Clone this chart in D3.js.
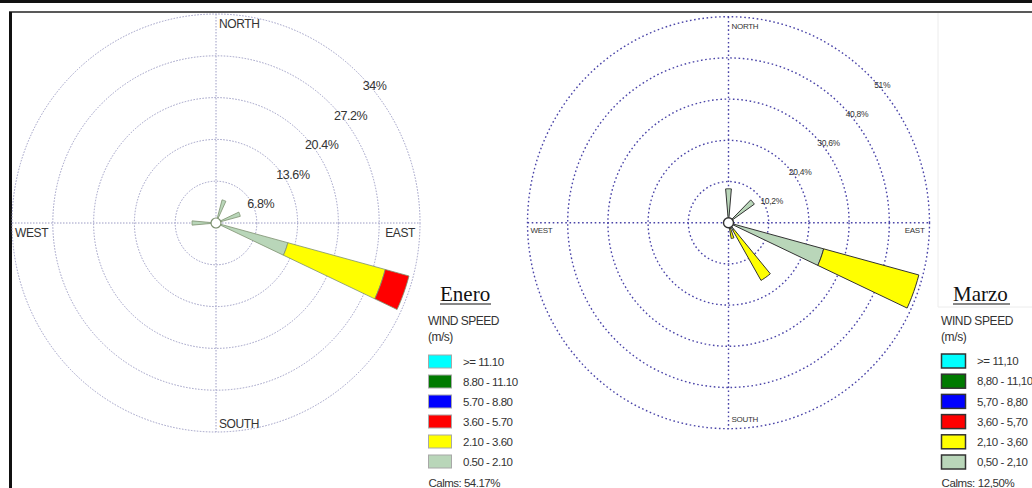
<!DOCTYPE html>
<html>
<head>
<meta charset="utf-8">
<script src="https://cdn.jsdelivr.net/npm/d3@7"></script>
<style>
  html, body { margin: 0; padding: 0; background: #fff; }
  svg { display: block; }
</style>
</head>
<body>
<svg id="chart" width="1032" height="488"></svg>
<script>
// ---- Data ---------------------------------------------------------------
// Speed classes (m/s), lowest first; colours follow the WRPLOT palette.
const speedClasses = ["0.50 - 2.10", "2.10 - 3.60", "3.60 - 5.70", "5.70 - 8.80", "8.80 - 11.10", ">= 11.10"];
const speedClassesComma = ["0,50 - 2,10", "2,10 - 3,60", "3,60 - 5,70", "5,70 - 8,80", "8,80 - 11,10", ">= 11,10"];
const speedColors = ["#b9d6b9", "#ffff00", "#ff0000", "#0000ff", "#007a00", "#00ffff"];

// January: direction (degrees from north) and frequency (%) per speed class
const eneroDirections = [20, 70, 110, 270];
const eneroClass1 = [3.9, 4.2, 12.4, 4.0];
const eneroClass2 = [0, 0, 16.8, 0];
const eneroClass3 = [0, 0, 4.1, 0];
const eneroClass4 = [0, 0, 0, 0];
const eneroClass5 = [0, 0, 0, 0];
const eneroClass6 = [0, 0, 0, 0];
const eneroRings = [6.8, 13.6, 20.4, 27.2, 34];
const eneroRingLabels = ["6.8%", "13.6%", "20.4%", "27.2%", "34%"];
const eneroCalms = "Calms: 54.17%";

// March
const marzoDirections = [0, 50, 110, 145, 165];
const marzoClass1 = [8.4, 8.0, 25.0, 2.2, 1.0];
const marzoClass2 = [0, 0, 25.0, 14.3, 3.0];
const marzoClass3 = [0, 0, 0, 0, 0];
const marzoClass4 = [0, 0, 0, 0, 0];
const marzoClass5 = [0, 0, 0, 0, 0];
const marzoClass6 = [0, 0, 0, 0, 0];
const marzoRings = [10.2, 20.4, 30.6, 40.8, 51];
const marzoRingLabels = ["10,2%", "20,4%", "30,6%", "40,8%", "51%"];
const marzoCalms = "Calms: 12,50%";

const compassNames = ["NORTH", "EAST", "SOUTH", "WEST"];

// ---- Drawing ------------------------------------------------------------
const svg = d3.select("#chart");

// page frame
svg.append("rect").attr("x", 0).attr("y", 0).attr("width", 1032).attr("height", 3).attr("fill", "#111");
svg.append("line").attr("x1", 9).attr("x2", 1032).attr("y1", 12).attr("y2", 12)
  .attr("stroke", "#222").attr("stroke-width", 1.6);
svg.append("line").attr("x1", 10.5).attr("x2", 10.5).attr("y1", 12).attr("y2", 488)
  .attr("stroke", "#111").attr("stroke-width", 3);
// faint border of the second plot image
svg.append("path").attr("d", "M938,13V307H1032").attr("fill", "none")
  .attr("stroke", "#ececec").attr("stroke-width", 1);

function windRose(cfg) {
  const g = svg.append("g");
  const {cx, cy} = cfg;
  const max = cfg.rings[cfg.rings.length - 1];
  const sx = d3.scaleLinear().domain([0, max]).range([0, cfg.rx]);
  const sy = d3.scaleLinear().domain([0, max]).range([0, cfg.ry]);
  const rad = d => d * Math.PI / 180;
  const project = (deg, v) => [cx + sx(v) * Math.sin(rad(deg)), cy - sy(v) * Math.cos(rad(deg))];

  // grid rings and axes
  const grid = g.append("g").attr("fill", "none")
    .attr("stroke", cfg.gridColor).attr("stroke-width", cfg.gridWidth)
    .attr("stroke-dasharray", cfg.gridDash);
  grid.selectAll("ellipse").data(cfg.rings).join("ellipse")
    .attr("cx", cx).attr("cy", cy)
    .attr("rx", d => sx(d)).attr("ry", d => sy(d));
  grid.append("line").attr("x1", cx - sx(max)).attr("x2", cx + sx(max)).attr("y1", cy).attr("y2", cy);
  grid.append("line").attr("x1", cx).attr("x2", cx).attr("y1", cy - sy(max)).attr("y2", cy + sy(max));

  // ring labels along the north-east diagonal
  g.append("g").selectAll("text").data(cfg.rings).join("text")
    .attr("x", d => project(45, d)[0] + cfg.ringDx)
    .attr("y", d => project(45, d)[1] + cfg.ringDy)
    .attr("font-family", "Liberation Sans, Arial, sans-serif")
    .attr("font-size", cfg.ringFont).attr("fill", "#333")
    .attr("letter-spacing", cfg.letterSpacing)
    .text((d, i) => cfg.ringLabels[i]);

  // compass labels
  const cf = {"font-family": "Liberation Sans, Arial, sans-serif", "font-size": cfg.compassFont, "fill": "#333", "letter-spacing": cfg.letterSpacing};
  const lab = (t, x, y, anchor) => {
    const el = g.append("text").attr("x", x).attr("y", y).attr("text-anchor", anchor).text(t);
    Object.entries(cf).forEach(([k, v]) => el.attr(k, v));
  };
  lab(compassNames[0], cx + 3, cy - sy(max) + cfg.northDy, "start");
  lab(compassNames[1], cx + sx(max) - 5, cy + cfg.sideDy, "end");
  lab(compassNames[2], cx + 3, cy + sy(max) - cfg.southDy, "start");
  lab(compassNames[3], cx - sx(max) + 3, cy + cfg.sideDy, "start");

  // petals: stacked speed classes per direction
  const half = cfg.halfWidth;
  const petal = (deg, v0, v1) => {
    const pts = [];
    const steps = 6;
    for (let k = 0; k <= steps; k++) pts.push(project(deg - half + 2 * half * k / steps, v1));
    for (let k = steps; k >= 0; k--) pts.push(project(deg - half + 2 * half * k / steps, v0));
    return "M" + pts.map(p => p[0].toFixed(2) + "," + p[1].toFixed(2)).join("L") + "Z";
  };
  const petals = [];
  cfg.directions.forEach((deg, i) => {
    let acc = 0;
    cfg.classes.forEach((cls, c) => {
      const v = cls[i];
      if (v > 0) { petals.push({deg, v0: acc, v1: acc + v, c}); acc += v; }
    });
  });
  g.append("g").selectAll("path").data(petals).join("path")
    .attr("d", d => petal(d.deg, d.v0, d.v1))
    .attr("fill", d => speedColors[d.c])
    .attr("stroke", cfg.petalStroke).attr("stroke-width", cfg.petalStrokeWidth)
    .attr("stroke-linejoin", "round");

  // calm circle
  g.append("circle").attr("cx", cx).attr("cy", cy).attr("r", 5)
    .attr("fill", "#fff").attr("stroke", cfg.petalStroke).attr("stroke-width", cfg.petalStrokeWidth + 0.4);

  // legend
  const L = cfg.legend;
  g.append("text").attr("x", L.titleX).attr("y", 301)
    .attr("font-family", "Liberation Serif, Times New Roman, serif").attr("font-size", 21)
    .attr("fill", "#111").text(L.title);
  g.append("line").attr("x1", L.titleX).attr("x2", L.titleX + L.titleW)
    .attr("y1", 304).attr("y2", 304).attr("stroke", "#111").attr("stroke-width", 1.1);
  const tf = (sel, size) => sel.attr("font-family", "Liberation Sans, Arial, sans-serif")
    .attr("font-size", size).attr("fill", "#333").attr("letter-spacing", L.spacing);
  tf(g.append("text").attr("x", L.headX).attr("y", 325).text("WIND SPEED"), L.headFont);
  tf(g.append("text").attr("x", L.headX).attr("y", 341).text("(m/s)"), L.headFont);
  const order = d3.range(speedColors.length).reverse();
  const rowY = d3.scalePoint().domain(order).range(L.rowRange);
  const rows = g.append("g").selectAll("g").data(order).join("g")
    .attr("transform", d => `translate(${L.swX},${rowY(d)})`);
  rows.append("rect").attr("width", L.swW).attr("height", L.swH)
    .attr("fill", d => speedColors[d]).attr("stroke", L.swStroke).attr("stroke-width", L.swStrokeWidth);
  tf(rows.append("text").attr("x", L.textX - L.swX).attr("y", L.swH / 2 + L.font * 0.36).text(d => L.labels[d]), L.font);
  tf(g.append("text").attr("x", L.swX).attr("y", L.calmsY).text(L.calms), L.font);
}

windRose({
  cx: 216, cy: 223, rx: 204, ry: 209,
  rings: eneroRings, ringLabels: eneroRingLabels,
  directions: eneroDirections,
  classes: [eneroClass1, eneroClass2, eneroClass3, eneroClass4, eneroClass5, eneroClass6],
  gridColor: "#9c9cc4", gridWidth: 1, gridDash: "1.5,1.5",
  ringFont: 12.5, ringDx: 2.5, ringDy: 15, letterSpacing: -0.4,
  compassFont: 12, northDy: 14, southDy: 4, sideDy: 13.5,
  halfWidth: 5, petalStroke: "#7d9170", petalStrokeWidth: 0.8,
  legend: {
    title: "Enero", titleX: 440, titleW: 51,
    headX: 428, headFont: 12, font: 11.5, spacing: -0.5,
    swX: 428.5, swW: 23, swH: 13, rowRange: [355, 455],
    textX: 463, swStroke: "#a8a8a8", swStrokeWidth: 1,
    labels: speedClasses, calms: eneroCalms, calmsY: 486.5
  }
});

windRose({
  cx: 728.5, cy: 222.7, rx: 201, ry: 206,
  rings: marzoRings, ringLabels: marzoRingLabels,
  directions: marzoDirections,
  classes: [marzoClass1, marzoClass2, marzoClass3, marzoClass4, marzoClass5, marzoClass6],
  gridColor: "#4a44a8", gridWidth: 1.4, gridDash: "1.6,2.6",
  ringFont: 8.5, ringDx: 3.5, ringDy: 10.5, letterSpacing: -0.3,
  compassFont: 8, northDy: 12, southDy: 6.5, sideDy: 10,
  halfWidth: 5, petalStroke: "#333", petalStrokeWidth: 1,
  legend: {
    title: "Marzo", titleX: 953, titleW: 57,
    headX: 941, headFont: 12, font: 11.5, spacing: -0.4,
    swX: 941.5, swW: 24, swH: 14, rowRange: [354, 455],
    textX: 977, swStroke: "#333", swStrokeWidth: 1.5,
    labels: speedClassesComma, calms: marzoCalms, calmsY: 487
  }
});
</script>
</body>
</html>
